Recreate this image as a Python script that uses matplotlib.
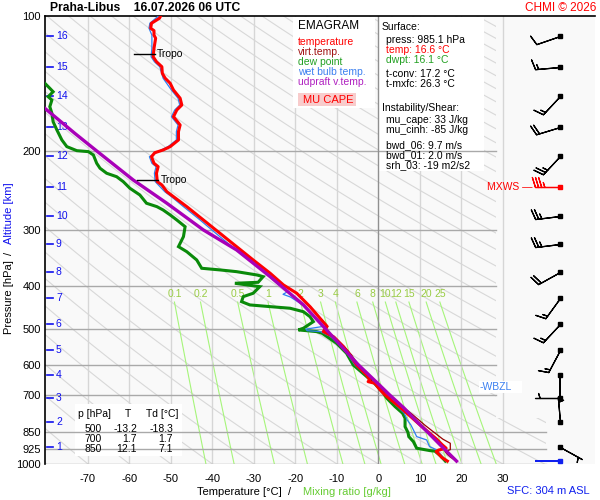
import numpy as np
import matplotlib
matplotlib.use('Agg')
import matplotlib.pyplot as plt
from matplotlib.patches import Rectangle, PathPatch
from matplotlib.path import Path
import matplotlib.transforms as mtransforms

plt.rcParams['font.family'] = ['Liberation Sans', 'DejaVu Sans']

# ---------------- data ----------------
temp_p = [100.0, 101.2, 103.8, 106.5, 107.8, 110.3, 112.1, 118.1, 123.3, 126.5, 129.8, 134.2,
          137.7, 141.3, 146.3, 152.6, 158.0, 162.1, 167.8, 175.1, 181.2, 189.1, 195.7, 199.1,
          201.9, 206.1, 213.2, 216.9, 224.4, 234.3, 238.3, 246.7, 253.1, 266.4, 285.3, 305.5,
          327.2, 350.4, 375.2, 398.4, 415.8, 445.4, 472.8, 493.0, 506.4, 519.6, 547.0, 570.9,
          600.9, 616.6, 632.7, 649.2, 654.9, 660.3, 683.4, 700.0, 719.4, 744.6, 777.0, 818.0,
          850.0, 880.0, 905.0, 922.0, 931.0, 938.0, 952.0, 965.7, 977.0, 985.1]
temp_t = [-52.5, -52.8, -54.7, -54.9, -54.1, -54.1, -53.7, -54.1, -54.3, -53.5, -52.2, -52.1,
          -51.4, -50.2, -49.4, -47.8, -47.4, -48.6, -49.4, -47.8, -48.2, -48.2, -50.2, -51.9,
          -53.9, -54.7, -54.1, -53.1, -53.5, -53.3, -52.2, -51.0, -49.4, -46.2, -42.2, -38.2,
          -34.2, -30.2, -26.1, -22.9, -19.7, -16.5, -14.1, -12.4, -13.3, -10.9, -8.5, -6.9,
          -5.3, -4.1, -2.9, -2.1, -2.5, -0.9, 0.4, 1.5, 3.0, 5.0, 7.3, 10.0,
          12.1, 14.0, 15.3, 16.3, 14.5, 13.9, 14.6, 15.2, 16.0, 16.6]

virt_p = [445.4, 472.8, 493.0, 506.4, 519.6, 547.0, 570.9, 600.9, 632.7, 649.2, 654.9, 660.3,
          683.4, 700.0, 744.6, 777.0, 818.0, 850.0, 880.0, 899.0, 929.0, 938.0, 952.0, 965.7,
          977.0, 985.1]
virt_t = [-16.4, -14.0, -12.2, -13.1, -10.6, -8.2, -6.5, -4.9, -2.5, -1.6, -2.0, -0.4,
          1.0, 2.2, 5.8, 8.3, 11.1, 13.4, 15.5, 17.3, 17.3, 16.0, 16.6, 17.4,
          18.2, 18.7]

dew_p = [138.0, 141.3, 145.0, 147.6, 151.4, 154.0, 159.4, 164.9, 172.2, 179.6, 189.1, 195.7,
         199.8, 200.8, 204.3, 213.2, 218.7, 224.4, 228.4, 234.3, 242.4, 250.9, 261.8, 266.4,
         271.0, 278.0, 285.3, 295.3, 310.8, 327.2, 335.8, 350.4, 365.7, 368.8, 372.1, 378.5,
         381.8, 393.0, 395.0, 401.9, 415.8, 423.1, 434.1, 441.5, 445.4, 449.1, 457.1, 469.0,
         481.1, 497.7, 502.0, 506.4, 510.6, 537.6, 566.0, 600.9, 632.7, 660.2, 695.0, 713.0,
         744.6, 770.3, 790.4, 825.3, 850.0, 868.7, 891.3, 922.1, 933.5, 936.0, 960.0, 985.1]
dew_t = [-82.0, -80.4, -79.2, -78.4, -79.6, -78.7, -79.2, -78.7, -78.4, -77.5, -76.3, -75.1,
         -72.7, -69.9, -68.7, -67.9, -67.1, -65.5, -63.1, -61.5, -59.9, -57.5, -55.9, -53.4,
         -51.9, -50.2, -48.6, -46.6, -47.0, -48.2, -46.2, -43.8, -42.6, -38.2, -34.2, -29.3,
         -27.8, -29.0, -34.6, -28.6, -30.2, -32.6, -33.0, -31.0, -26.1, -21.3, -18.1, -16.5,
         -15.7, -18.1, -19.3, -14.9, -13.6, -10.1, -7.7, -6.1, -3.3, -1.0, 1.2, 2.0,
         4.0, 5.8, 6.4, 6.4, 7.1, 7.3, 8.4, 9.2, 12.4, 13.6, 15.0, 16.1]

wet_p = [100.0, 103.8, 106.5, 110.3, 118.1, 123.3, 126.5, 129.8, 137.7, 146.3, 152.6, 158.0,
         162.1, 167.8, 175.1, 181.2, 189.1, 195.7, 199.1, 206.1, 213.2, 216.9, 224.4, 234.3,
         246.7, 253.1, 266.4, 285.3, 305.5, 327.2, 350.4, 375.2, 398.4, 412.0, 418.0, 424.0,
         445.4, 472.8, 493.0, 500.0, 504.0, 506.4, 519.6, 547.0, 570.9, 600.9, 632.7, 660.3,
         700.0, 744.6, 770.3, 797.0, 818.0, 839.0, 868.7, 883.6, 914.5, 930.0, 960.0, 985.1]
wet_t = [-53.0, -55.1, -55.3, -54.6, -54.6, -54.8, -54.0, -52.7, -51.9, -49.9, -48.3, -47.9,
         -49.1, -49.9, -48.3, -48.7, -48.7, -50.7, -52.4, -55.2, -54.6, -53.6, -54.0, -53.8,
         -51.5, -49.9, -47.0, -43.0, -39.2, -35.3, -31.2, -27.2, -24.0, -21.8, -23.0, -21.2,
         -17.6, -15.0, -13.3, -17.5, -17.2, -14.0, -11.5, -9.0, -7.3, -5.7, -3.1, -0.9,
         1.6, 4.6, 6.2, 6.9, 7.8, 8.4, 9.2, 11.6, 12.3, 14.0, 15.3, 16.3]

updraft_p = [158.0, 160.7, 182.7, 200.1, 232.3, 261.8, 300.3, 332.8, 381.8, 441.5, 500.0,
             600.0, 666.0, 700.0, 751.0, 800.0, 850.0, 911.0, 985.1]
updraft_t = [-81.3, -80.4, -73.2, -67.9, -59.1, -51.0, -42.2, -34.2, -26.1, -18.1, -12.7,
             -4.9, 0.2, 2.6, 6.2, 9.0, 11.9, 15.1, 18.8]

# altitude scale (km -> hPa) and winds at each km
alt_km = [1, 2, 3, 4, 5, 6, 7, 8, 9, 10, 11, 12, 13, 14, 15, 16]
alt_p = [914, 807, 712, 631.5, 555.5, 488, 427, 372.5, 323.5, 279, 240.5, 205, 176.5, 151, 130, 111]
wind_dir = [119, 355, 270, 180, 208, 223, 216, 241, 263, 263, 270, 223, 253, 223, 265, 251]
wind_spd = [5, 5, 5, 2, 15, 15, 15, 20, 25, 25, 35, 25, 20, 15, 15, 10]
sfc_p = 985.1
sfc_dir = 270
sfc_spd = 2
maxwind_km = 11

tropo_p = [121.6, 232.6]
wbzl_p = 673

mix_ratios = [0.1, 0.2, 0.5, 1, 2, 3, 4, 6, 8, 10, 12, 15, 20, 25]
pressure_ticks = [100, 200, 300, 400, 500, 600, 700, 850, 925, 1000]
temp_ticks = [-70, -60, -50, -40, -30, -20, -10, 0, 10, 20, 30]

tab_p = [500, 700, 850]
tab_t = [-13.2, 1.7, 12.1]
tab_td = [-18.3, 1.7, 7.1]

# ---------------- figure ----------------
W, H = 600, 500
fig = plt.figure(figsize=(6, 5), dpi=100)
fig.patch.set_facecolor('white')
ax = fig.add_axes([45 / W, 36 / H, 550 / W, 448 / H])
ax.set_facecolor('#f9f9f9')
ax.set_yscale('log')
TMIN, TMAX = -80.36, 52.17
ax.set_xlim(TMIN, TMAX)
ax.set_ylim(1000, 100)
for s in ['right', 'bottom']:
    ax.spines[s].set_visible(False)
ax.spines['left'].set_color('black')
ax.spines['top'].set_color('black')
ax.spines['left'].set_linewidth(1.2)
ax.spines['top'].set_linewidth(1.2)

ax.set_yticks(pressure_ticks)
ax.set_yticklabels([str(p) for p in pressure_ticks], fontsize=8)
ax.yaxis.set_minor_locator(matplotlib.ticker.NullLocator())
ax.set_xticks(temp_ticks)
ax.set_xticklabels([str(t) for t in temp_ticks], fontsize=8)
ax.tick_params(axis='both', length=0)
ax.tick_params(axis='y', pad=3)
ax.tick_params(axis='x', pad=7)

T_UP = 28.3
T_LO = 40.4
P_BRK = 790

# clip region for the background diagram
clip_verts = [(TMIN, 100), (T_UP, 100), (T_UP, P_BRK), (T_LO, P_BRK), (T_LO, 1000), (TMIN, 1000), (TMIN, 100)]
clip_patch = PathPatch(Path(clip_verts), transform=ax.transData, facecolor='none', edgecolor='none')
ax.add_patch(clip_patch)

# dry adiabats
pp = np.logspace(2, 3, 200)
for k in range(-12, 34):
    theta = 273.15 + 10 * k
    tt = theta * (pp / 1000.0) ** 0.2857 - 273.15
    ln, = ax.plot(tt, pp, color='#d8d8d8', lw=0.8, zorder=1)
    ln.set_clip_path(clip_patch)

# mixing ratio lines
def td_from_w(w, p):
    e = w * p / (622.0 + w)
    l = np.log(e / 6.112)
    return 243.5 * l / (17.67 - l)

pm = np.logspace(np.log10(435), 3, 60)
for w in mix_ratios:
    ax.plot(td_from_w(w, pm), pm, color='#a6f57a', lw=0.8, zorder=1.1)
    lab = ('%g' % w)
    ax.text(td_from_w(w, 435), 418, lab, color='#99cc44', fontsize=7.5,
            ha='center', va='center', zorder=1.6)

# isotherms
for t in temp_ticks:
    if t == 0:
        continue
    ax.plot([t, t], [100, 1000], color='#d6d6d6', lw=1, zorder=1.2)

# white info boxes
def fig_rect(x0, y0, x1, y1, fc='white', z=1.5):
    r = Rectangle((x0 / W, 1 - y1 / H), (x1 - x0) / W, (y1 - y0) / H, transform=fig.transFigure,
                  facecolor=fc, edgecolor='none', zorder=z)
    ax.add_patch(r)

fig_rect(293, 17, 375, 108)
fig_rect(379, 17, 484, 171)
fig_rect(75, 404, 182, 456)

# isobars
for p in [200, 300, 400, 500, 600, 700]:
    ax.plot([TMIN, T_UP], [p, p], color='#a9a9a9', lw=1, zorder=2)
for p in [850, 925, 1000]:
    ax.plot([TMIN, T_LO], [p, p], color='#a9a9a9', lw=1, zorder=2)
ax.plot([0, 0], [100, 1000], color='#909090', lw=1, zorder=2)

# altitude scale
blend = mtransforms.blended_transform_factory(ax.transAxes, ax.transData)
for km, p in zip(alt_km, alt_p):
    ax.plot([2 / 550, 8 / 550], [p, p], color='#1010ee', lw=1.2, transform=blend, zorder=3)
    ax.text(11 / 550, p, str(km), color='#1010ee', fontsize=7.5, va='center', ha='left',
            transform=blend, zorder=3)

# profiles
ax.plot(dew_t, dew_p, color='#0a8a0a', lw=2.2, zorder=3, solid_joinstyle='miter')
ax.plot(wet_t, wet_p, color='#2f7ff0', lw=0.9, zorder=3.1)
ax.plot(virt_t, virt_p, color='#990000', lw=0.9, zorder=3.2)
ax.plot(temp_t, temp_p, color='#ff0000', lw=2.2, zorder=3.3)
ax.plot(updraft_t, updraft_p, color='#a800b8', lw=2.4, zorder=3.4)

# tropopause markers
for p in tropo_p:
    ti = np.interp(p, temp_p, temp_t)
    ax.plot([ti - 4.8, ti + 0.3], [p, p], color='black', lw=1, zorder=3.5)
    ax.text(ti + 0.9, p, 'Tropo', fontsize=7.5, va='center', ha='left', zorder=3.5)

# winds
XB = 43.74
STAFF = 25  # px


def calm_staff(p, d, color, lw=1.0):
    ax.quiver([XB], [p], [np.sin(np.radians(d))], [np.cos(np.radians(d))], angles='uv',
              scale_units='dots', scale=1.0 / STAFF, units='dots', width=lw + 0.2,
              headwidth=0, headlength=0, headaxislength=0, pivot='tail', color=color,
              zorder=4, clip_on=False)


colors = ['red' if k == maxwind_km else 'black' for k in alt_km]
for i in range(len(alt_km)):
    d = np.radians(wind_dir[i])
    if wind_spd[i] < 2.5:
        calm_staff(alt_p[i], wind_dir[i], colors[i])
    else:
        ax.barbs([XB], [alt_p[i]], [-wind_spd[i] * np.sin(d)], [-wind_spd[i] * np.cos(d)],
                 length=6, pivot='tip', lw=0.9,
                 barbcolor=colors[i], flagcolor=colors[i], zorder=4, clip_on=False)
    ax.plot([XB], [alt_p[i]], 's', ms=2.4, color=colors[i], zorder=4.1, clip_on=False)
calm_staff(sfc_p, sfc_dir, '#1020ee', lw=1.4)
ax.plot([XB], [sfc_p], 's', ms=2.6, color='#1020ee', zorder=4.1)

# ---------------- texts ----------------
def ftext(x, y, s, **kw):
    kw.setdefault('va', 'center')
    kw.setdefault('fontsize', 7.5)
    return fig.text(x / W, 1 - y / H, s, **kw)

ftext(50, 8, 'Praha-Libus    16.07.2026 06 UTC', fontweight='bold', fontsize=8.7)
ftext(596, 8, 'CHMI \u00a9 2026', color='red', ha='right', fontsize=8.5)

ftext(298, 26, 'EMAGRAM', fontsize=8.5)
ftext(298, 42, 'temperature', color='#ff0000')
ftext(298, 52, 'virt.temp.', color='#a01010')
ftext(298, 62, 'dew point', color='#22a022')
ftext(298, 72, 'wet bulb temp.', color='#3a7ff0')
ftext(298, 82, 'udpraft v.temp.', color='#b020c0')
fig_rect(298, 93, 356, 106, fc='#f8cccc', z=1.7)
ftext(303, 100, 'MU CAPE', color='#ff0000', fontsize=8)

info = [(382, 27, 'Surface:', 'black'),
        (386, 40, 'press: 985.1 hPa', 'black'),
        (386, 50, 'temp: 16.6 \u00b0C', '#ff0000'),
        (386, 60, 'dwpt: 16.1 \u00b0C', '#22a022'),
        (386, 74, 't-conv: 17.2 \u00b0C', 'black'),
        (386, 84, 't-mxfc: 26.3 \u00b0C', 'black'),
        (382, 108, 'Instability/Shear:', 'black'),
        (386, 120, 'mu_cape: 33 J/kg', 'black'),
        (386, 130, 'mu_cinh: -85 J/kg', 'black'),
        (386, 145, 'bwd_06: 9.7 m/s', 'black'),
        (386, 155, 'bwd_01: 2.0 m/s', 'black'),
        (386, 165, 'srh_03: -19 m2/s2', 'black')]
for x, y, s, c in info:
    ftext(x, y, s, color=c)

# table
ftext(78, 414, 'p [hPa]')
ftext(128, 414, 'T', ha='center')
ftext(146, 414, 'Td [\u00b0C]')
for i, (p, t, td) in enumerate(zip(tab_p, tab_t, tab_td)):
    y = 429 + 10 * i
    ftext(102, y, str(p), ha='right')
    ftext(137, y, '%.1f' % t, ha='right')
    ftext(173, y, '%.1f' % td, ha='right')

# labels for special levels
yl = ax.transData.transform((0, np.interp(maxwind_km, alt_km, alt_p)))[1]
ftext(487, H - yl, 'MXWS \u2014', color='red', fontsize=7.5)
yw = ax.transData.transform((0, wbzl_p))[1]
fig_rect(479, H - yw - 6, 522, H - yw + 6, fc='white', z=1.8)
ftext(480, H - yw, '-WBZL', color='#3a7ff0', fontsize=7.5)

# axis labels
ftext(197, 492, 'Temperature [\u00b0C]  /  ', fontsize=8)
ftext(303, 492, 'Mixing ratio [g/kg]', color='#66cc33', fontsize=8)
ftext(590, 491, 'SFC: 304 m ASL', color='#1020ee', ha='right', fontsize=8)
ftext(9, 297, 'Pressure [hPa]', rotation=90, ha='center', fontsize=8)
ftext(9, 253, '/', rotation=90, ha='center', fontsize=8)
ftext(9, 213, 'Altitude [km]', rotation=90, ha='center', color='#1010ee', fontsize=8)

fig.savefig('out.png', dpi=100, facecolor='white')
